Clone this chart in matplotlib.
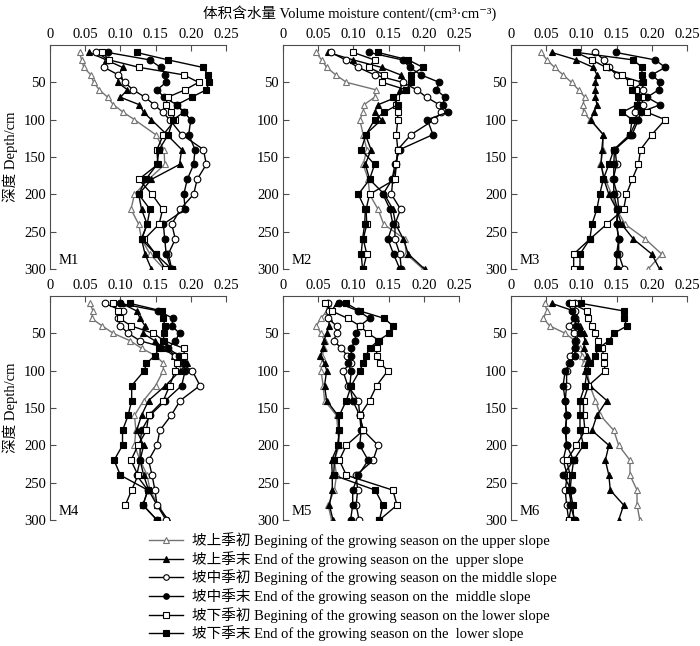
import numpy as np
import matplotlib
matplotlib.use("Agg")
import matplotlib.pyplot as plt
from matplotlib.lines import Line2D

plt.rcParams["font.family"] = ["Liberation Serif", "Noto Sans CJK SC", "DejaVu Serif"]

nan = np.nan

# depth of each sampling point (cm)
depth = [10, 20, 30, 40, 50, 60, 70, 80, 90, 100,
         120, 140, 160, 180, 200, 220, 240, 260, 280, 300]

series_labels = [
    "坡上季初 Begining of the growing season on the upper slope",
    "坡上季末 End of the growing season on the  upper slope",
    "坡中季初 Begining of the growing season on the middle slope",
    "坡中季末 End of the growing season on the  middle slope",
    "坡下季初 Begining of the growing season on the lower slope",
    "坡下季末 End of the growing season on the  lower slope",
]

# volume moisture content, one list per series, per site
M1 = [
    [0.042, 0.045, 0.048, 0.058, 0.062, 0.070, 0.082, 0.090, 0.104, 0.120,
     0.150, 0.162, 0.163, 0.140, 0.120, 0.115, 0.126, 0.130, 0.142, 0.162],
    [0.056, 0.080, 0.103, 0.098, 0.096, 0.110, 0.100, 0.127, 0.133, 0.144,
     0.166, 0.187, 0.184, 0.144, 0.126, 0.130, 0.138, 0.130, 0.135, 0.144],
    [0.066, 0.083, 0.077, 0.097, 0.106, 0.118, 0.135, 0.148, 0.160, 0.170,
     0.187, 0.218, 0.222, 0.209, 0.204, 0.185, 0.173, 0.178, 0.168, 0.173],
    [0.082, 0.142, 0.157, 0.164, 0.165, 0.152, 0.162, 0.180, 0.190, 0.200,
     0.197, 0.206, 0.204, 0.195, 0.190, 0.192, 0.161, 0.163, 0.165, 0.172],
    [0.074, 0.084, 0.127, 0.190, 0.211, 0.192, 0.167, 0.165, 0.172, 0.178,
     0.161, 0.152, 0.153, 0.126, 0.145, 0.160, 0.155, 0.134, 0.150, 0.164],
    [0.123, 0.168, 0.217, 0.225, 0.226, 0.222, 0.201, 0.180, 0.190, 0.175,
     0.168, 0.155, 0.152, 0.136, 0.126, 0.142, 0.138, 0.130, 0.150, 0.173],
]
M2 = [
    [0.047, 0.055, 0.062, 0.075, 0.090, 0.132, 0.130, 0.115, 0.114, 0.109,
     0.114, 0.119, 0.114, 0.121, 0.123, 0.135, 0.143, 0.173, 0.175, 0.199],
    [0.064, 0.100, 0.140, 0.167, 0.170, 0.166, 0.161, 0.135, 0.130, 0.140,
     0.117, 0.125, 0.117, 0.123, 0.144, 0.156, 0.160, 0.171, 0.178, 0.201],
    [0.068, 0.089, 0.107, 0.130, 0.170, 0.190, 0.204, 0.222, 0.225, 0.215,
     0.182, 0.163, 0.161, 0.156, 0.154, 0.167, 0.159, 0.159, 0.166, 0.168],
    [0.122, 0.170, 0.180, 0.196, 0.222, 0.218, 0.230, 0.227, 0.234, 0.205,
     0.213, 0.166, 0.159, 0.155, 0.142, 0.152, 0.156, 0.149, 0.157, 0.166],
    [0.100, 0.130, 0.122, 0.144, 0.141, 0.175, 0.161, 0.161, 0.163, 0.163,
     0.161, 0.163, 0.161, 0.159, 0.123, 0.118, 0.119, 0.114, 0.119, 0.114],
    [0.135, 0.178, 0.199, 0.182, 0.182, 0.175, 0.156, 0.163, 0.144, 0.130,
     0.118, 0.111, 0.130, 0.123, 0.107, 0.117, 0.116, 0.113, 0.111, 0.113],
]
M3 = [
    [0.043, 0.051, 0.062, 0.074, 0.086, 0.096, 0.105, 0.102, 0.103, 0.112,
     0.131, 0.131, 0.127, 0.134, 0.143, 0.150, 0.162, 0.191, 0.214, 0.195],
    [0.058, 0.093, 0.117, 0.122, 0.120, 0.120, 0.120, 0.122, 0.118, 0.113,
     0.131, 0.129, 0.128, 0.132, 0.139, 0.150, 0.157, 0.174, 0.200, 0.211],
    [0.120, 0.132, 0.139, 0.150, 0.186, 0.188, 0.185, 0.188, 0.176, 0.179,
     0.169, 0.148, 0.150, 0.145, 0.151, 0.153, 0.150, 0.153, 0.153, 0.160],
    [0.149, 0.205, 0.219, 0.200, 0.212, 0.210, 0.193, 0.212, 0.184, 0.181,
     0.172, 0.147, 0.146, 0.146, 0.146, 0.151, 0.150, 0.153, 0.150, 0.150],
    [0.093, 0.115, 0.135, 0.158, 0.169, 0.178, 0.186, 0.179, 0.193, 0.219,
     0.200, 0.184, 0.181, 0.172, 0.164, 0.160, 0.136, 0.112, 0.089, 0.089],
    [0.094, 0.174, 0.186, 0.186, 0.188, 0.172, 0.181, 0.179, 0.158, 0.172,
     0.169, 0.146, 0.139, 0.131, 0.126, 0.122, 0.115, 0.112, 0.098, 0.098],
]
M4 = [
    [0.057, 0.061, 0.059, 0.074, 0.090, 0.114, 0.130, 0.150, 0.161, 0.161,
     0.150, 0.133, 0.120, 0.122, 0.120, 0.128, 0.138, 0.142, 0.154, 0.167],
    [0.102, 0.123, 0.128, 0.135, 0.132, 0.149, 0.161, 0.176, 0.195, 0.185,
     0.164, 0.140, 0.130, 0.123, 0.133, 0.128, 0.133, 0.140, 0.152, 0.168],
    [0.078, 0.103, 0.097, 0.100, 0.111, 0.128, 0.166, 0.178, 0.185, 0.202,
     0.213, 0.185, 0.172, 0.156, 0.152, 0.140, 0.145, 0.149, 0.152, 0.165],
    [0.100, 0.154, 0.175, 0.173, 0.184, 0.178, 0.168, 0.183, 0.190, 0.192,
     0.187, 0.164, 0.142, 0.130, 0.128, 0.128, 0.123, 0.139, 0.132, 0.152],
    [0.089, 0.096, 0.099, 0.115, 0.147, 0.162, 0.190, 0.191, 0.181, 0.178,
     0.170, 0.161, 0.140, 0.137, 0.125, 0.115, 0.125, 0.116, 0.107, nan],
    [0.114, 0.159, 0.161, 0.163, 0.162, 0.161, 0.155, 0.149, 0.137, 0.134,
     0.116, 0.116, 0.111, 0.103, 0.103, 0.091, 0.100, 0.139, 0.132, 0.152],
]
M5 = [
    [0.064, 0.062, 0.054, 0.047, 0.054, 0.059, 0.058, 0.056, 0.055, 0.054,
     0.057, 0.059, 0.076, 0.078, 0.080, 0.073, 0.076, 0.073, 0.064, 0.069],
    [0.076, 0.069, 0.066, 0.065, 0.062, 0.058, 0.057, 0.053, 0.059, 0.062,
     0.059, 0.062, 0.078, 0.080, 0.078, 0.069, 0.070, 0.070, 0.066, 0.071],
    [0.064, 0.066, 0.064, 0.076, 0.076, 0.072, 0.083, 0.091, 0.097, 0.085,
     0.092, 0.107, 0.109, 0.114, 0.135, 0.128, 0.104, 0.106, 0.104, 0.108],
    [0.080, 0.107, 0.123, 0.109, 0.104, 0.102, 0.097, 0.097, 0.092, 0.097,
     0.095, 0.099, 0.109, 0.111, 0.109, 0.121, 0.107, 0.099, 0.099, 0.096],
    [0.059, 0.069, 0.092, 0.109, 0.121, 0.137, 0.133, 0.133, 0.138, 0.149,
     0.133, 0.123, 0.109, 0.114, 0.090, 0.080, 0.090, 0.156, 0.162, 0.137],
    [0.090, 0.109, 0.144, 0.156, 0.151, 0.135, 0.123, 0.118, 0.114, 0.109,
     0.097, 0.090, 0.080, 0.080, 0.078, 0.073, 0.072, 0.131, 0.142, 0.137],
]
M6 = [
    [0.048, 0.051, 0.046, 0.055, 0.077, 0.091, 0.098, 0.101, 0.103, 0.108,
     0.112, 0.120, 0.127, 0.146, 0.153, 0.169, 0.169, 0.179, 0.179, 0.183],
    [0.058, 0.089, 0.093, 0.098, 0.103, 0.105, 0.103, 0.108, 0.108, 0.105,
     0.112, 0.136, 0.122, 0.115, 0.139, 0.134, 0.139, 0.141, 0.160, 0.153],
    [0.091, 0.091, 0.091, 0.082, 0.089, 0.093, 0.091, 0.084, 0.082, 0.079,
     0.079, 0.077, 0.079, 0.078, 0.079, 0.074, 0.080, 0.077, 0.079, 0.082],
    [0.082, 0.086, 0.090, 0.093, 0.098, 0.091, 0.091, 0.091, 0.084, 0.077,
     0.074, 0.077, 0.079, 0.077, 0.079, 0.089, 0.074, 0.086, 0.084, 0.091],
    [0.086, 0.108, 0.110, 0.115, 0.120, 0.124, 0.129, 0.132, 0.132, 0.134,
     0.110, 0.103, 0.103, 0.105, 0.093, 0.079, 0.084, 0.082, 0.086, 0.082],
    [0.100, 0.160, 0.160, 0.165, 0.146, 0.139, 0.124, 0.120, 0.112, 0.108,
     0.105, 0.098, 0.098, 0.098, 0.103, 0.089, 0.086, 0.084, 0.088, 0.089],
]

sites = ["M1", "M2", "M3", "M4", "M5", "M6"]
site_data = [M1, M2, M3, M4, M5, M6]

# marker, face colour, line colour for the six series
styles = [
    ("^", "white", "0.45"),
    ("^", "black", "black"),
    ("o", "white", "black"),
    ("o", "black", "black"),
    ("s", "white", "black"),
    ("s", "black", "black"),
]

W, H = 700, 646
fig = plt.figure(figsize=(W / 100, H / 100), dpi=100)

col_left = [50, 283, 511]
row_top = [45, 296]
aw, ah = 176, 224

xticks = [0, 0.05, 0.10, 0.15, 0.20, 0.25]
xticklabels = ["0", "0.05", "0.10", "0.15", "0.20", "0.25"]
yticks = [50, 100, 150, 200, 250, 300]

for k, (name, data) in enumerate(zip(sites, site_data)):
    r, c = divmod(k, 3)
    ax = fig.add_axes([col_left[c] / W, 1 - (row_top[r] + ah) / H, aw / W, ah / H])
    for vals, (mk, fc, lc) in zip(data, styles):
        ax.plot(vals, depth, color=lc, lw=1.0, marker=mk, markersize=4.8,
                markerfacecolor=fc, markeredgecolor=lc, markeredgewidth=0.8)
    ax.set_xlim(0, 0.25)
    ax.set_ylim(300, 0)
    ax.xaxis.tick_top()
    ax.set_xticks(xticks)
    ax.set_xticklabels(xticklabels)
    ax.set_yticks(yticks)
    ax.spines["right"].set_visible(False)
    ax.spines["bottom"].set_visible(False)
    ax.spines["top"].set_color("0.3")
    ax.spines["left"].set_color("0.3")
    ax.tick_params(direction="in", length=4, width=0.8, labelsize=10.5, pad=3,
                   colors="0.3", labelcolor="black")
    ax.patch.set_alpha(0)
    ax.text(0.012, 288, name, fontsize=10.5, ha="left", va="center")

fig.text(350 / W, 1 - 13 / H,
         "体积含水量 Volume moisture content/(cm³·cm⁻³)",
         ha="center", va="center", fontsize=10.5)
for r in range(2):
    yc = row_top[r] + ah / 2
    fig.text(10 / W, 1 - yc / H, "深度 Depth/cm", rotation=90,
             ha="center", va="center", fontsize=10.5)

handles = [Line2D([], [], color=lc, lw=1.0, marker=mk, markersize=4,
                  markerfacecolor=fc, markeredgecolor=lc, markeredgewidth=0.8)
           for (mk, fc, lc) in styles]
fig.legend(handles, series_labels, loc="upper left",
           bbox_to_anchor=(142 / W, 1 - 525 / H), frameon=False,
           fontsize=10.5, handlelength=2.3, handletextpad=0.6,
           labelspacing=0.19, borderpad=0)

fig.savefig("out.png", dpi=100)
